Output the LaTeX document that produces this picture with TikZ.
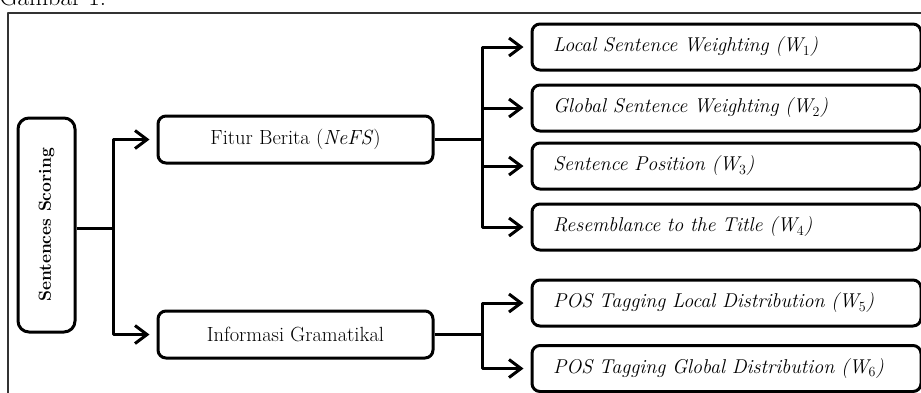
\documentclass[tikz,border=0pt]{standalone}
\usetikzlibrary{arrows.meta}
\newcommand{\wsub}[1]{\textsubscript{\upshape #1}}
\begin{document}
\begin{tikzpicture}[x=1pt,y=-1pt,line width=3pt,line join=round]
	\def \colone{46.5}
	\def \coltwo{295.5}
	\def \colthree{726.5}
	\def \forkone{113}
	\def \forktwo{482}
	\tikzstyle{frame}=[draw=black!80,line width=1.5pt]
	\tikzstyle{score}=[draw,rounded corners=11pt,minimum width=57pt,minimum height=214pt,inner sep=0pt,font=\bfseries\fontsize{17.5}{20}\selectfont]
	\tikzstyle{feat}=[draw,rounded corners=8pt,minimum width=275pt,minimum height=47pt,inner sep=0pt,font=\fontsize{20.5}{24}\selectfont]
	\tikzstyle{weight}=[draw,rounded corners=8pt,text width=347pt,inner xsep=21pt,inner ysep=0pt,minimum height=46pt,align=left,font=\itshape\fontsize{20}{24}\selectfont]
	\tikzstyle{link}=[-{Straight Barb[length=12pt,width=18pt]}]
	\useasboundingbox (0,0) rectangle (921,392);
	% caption and frame
	\node[anchor=base west,inner sep=0pt,font=\fontsize{25}{30}\selectfont] (caption) at (-2,5) {Gambar 1.};
	\path[frame] (8,13) rectangle (935,400);
	
	% root
	\node[score] (ss) at (\colone,225) {\rotatebox{90}{Sentences Scoring}};
	
	% features
	\node[feat] (fb) at (\coltwo,139.5) {Fitur Berita (\textit{NeFS})};
	\node[feat] (ig) at (\coltwo,334.5) {Informasi Gramatikal};
	
	% weights
	\node[weight] (w1) at (\colthree,47)  {Local Sentence Weighting (W\wsub{1})};
	\node[weight] (w2) at (\colthree,108) {Global Sentence Weighting (W\wsub{2})};
	\node[weight] (w3) at (\colthree,166) {Sentence Position (W\wsub{3})};
	\node[weight] (w4) at (\colthree,227) {Resemblance to the Title (W\wsub{4})};
	\node[weight] (w5) at (\colthree,303) {POS Tagging Local Distribution (W\wsub{5})};
	\node[weight] (w6) at (\colthree,368.5) {POS Tagging Global Distribution (W\wsub{6})};
	
	% fork points
	\coordinate (j0) at (\forkone,228);
	\coordinate (j1) at (\forktwo,139.5);
	\coordinate (j2) at (\forktwo,334.5);
	
	\draw (ss.east |- j0) -- (j0);
	\draw[link] (j0) |- ([xshift=-7pt]fb.west);
	\draw[link] (j0) |- ([xshift=-7pt]ig.west);
	
	\draw (fb) -- (j1);
	\draw[link] (j1) |- ([xshift=-7pt]w1.west);
	\draw[link] (j1) |- ([xshift=-7pt]w2.west);
	\draw[link] (j1) |- ([xshift=-7pt]w3.west);
	\draw[link] (j1) |- ([xshift=-7pt]w4.west);
	
	\draw (ig) -- (j2);
	\draw[link] (j2) |- ([xshift=-7pt]w5.west);
	\draw[link] (j2) |- ([xshift=-7pt]w6.west);
\end{tikzpicture}
\end{document}
